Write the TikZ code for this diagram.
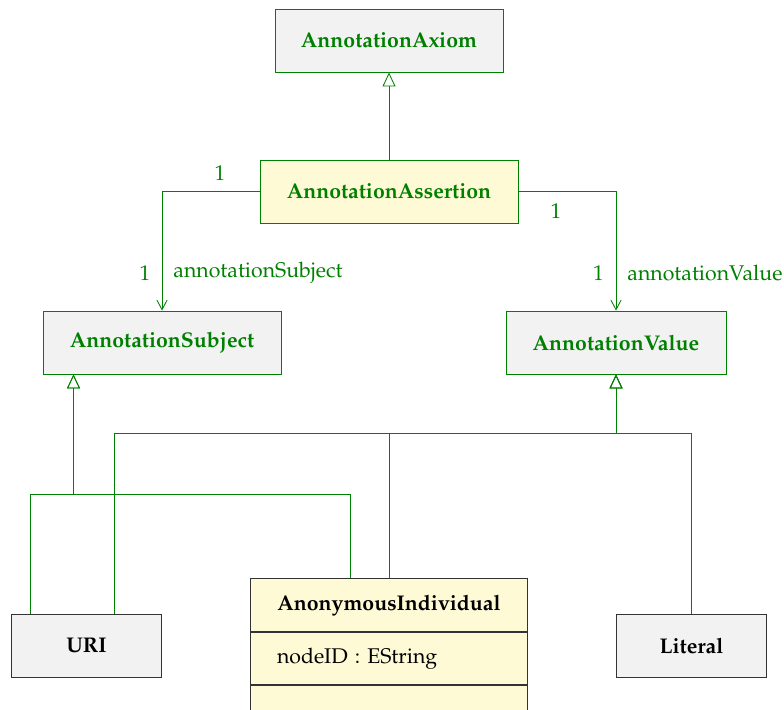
\documentclass[tikz,border=0pt]{standalone}
\usepackage[T1]{fontenc}
\usepackage{mathpazo}
\usetikzlibrary{arrows.meta,positioning}
\definecolor{umlgreen}{RGB}{0,128,0}
\definecolor{umlgray}{RGB}{242,242,242}
\definecolor{umlyellow}{RGB}{255,250,214}
\newlength\pxu \setlength\pxu{0.47pt}
\tikzset{
  cls/.style={draw=umlgreen, fill=umlgray, text=umlgreen, font=\bfseries,
    minimum height=63\pxu, inner sep=0pt},
  ext/.style={draw=black!80, fill=umlgray, text=black, font=\bfseries,
    minimum height=63\pxu, inner sep=0pt},
  part/.style={draw=black!80, fill=umlyellow, minimum width=277\pxu, inner sep=0pt},
  gen/.style={draw=umlgreen, -{Triangle[open,width=6.1pt,length=6.6pt]}},
  assoc/.style={draw=umlgreen, -{Straight Barb[length=4.5pt,width=4.8pt]}},
  lbl/.style={text=umlgreen, inner sep=0pt}
}
\begin{document}
\begin{tikzpicture}[x=\pxu,y=-\pxu]
\useasboundingbox (0,0) rectangle (784,709);
\clip (0,0) rectangle (784,709);
\node[cls, minimum width=228\pxu] (axiom) at (389,40.5) {AnnotationAxiom};
\node[cls, fill=umlyellow, minimum width=258\pxu] (assert) at (389,191.5) {AnnotationAssertion};
\node[cls, minimum width=238\pxu] (subject) at (162,342.5) {AnnotationSubject};
\node[cls, minimum width=220\pxu] (value) at (616,342.5) {AnnotationValue};
\node[ext, minimum width=150\pxu] (uri) at (86.5,645.5) {URI};
\node[ext, minimum width=150\pxu] (literal) at (691.5,645.5) {Literal};
\node[part, minimum height=53\pxu, font=\bfseries] (anon) at (389,605.2) {AnonymousIndividual};
\node[part, minimum height=52\pxu, below=0pt of anon, text width=224\pxu,
  inner xsep=26.5\pxu, align=left] (anonattr) {nodeID : EString};
\node[part, minimum height=52\pxu, below=0pt of anonattr] (anonops) {};

\draw[gen] (assert) -- (axiom);
\draw[assoc] (assert.west) -| (subject);
\draw[assoc] (assert.east) -| (value);
\node[lbl] (m1) at (220,173) {1};
\node[lbl] (m2) at (145,273) {1};
\node[lbl, anchor=west] (r1) at (173,273) {annotationSubject};
\node[lbl] (m3) at (556,211) {1};
\node[lbl] (m4) at (598.5,273) {1};
\node[lbl, anchor=west] (r2) at (627,273) {annotationValue};

% subject hierarchy
\coordinate (sj) at (73.5,494);
\draw[gen] ([xshift=19\pxu]uri.north west) |- (sj) -- (sj |- subject.south);
\draw[gen] ([xshift=-38.5\pxu]anon.north) |- (sj) -- (sj |- subject.south);
% value hierarchy
\coordinate (vj) at (616,433.7);
\draw[gen] ([xshift=27.5\pxu]uri.north) |- (vj) -- (vj |- value.south);
\draw[gen] (anon.north) |- (vj) -- (vj |- value.south);
\draw[gen] (literal.north) |- (vj) -- (vj |- value.south);
\end{tikzpicture}
\end{document}
